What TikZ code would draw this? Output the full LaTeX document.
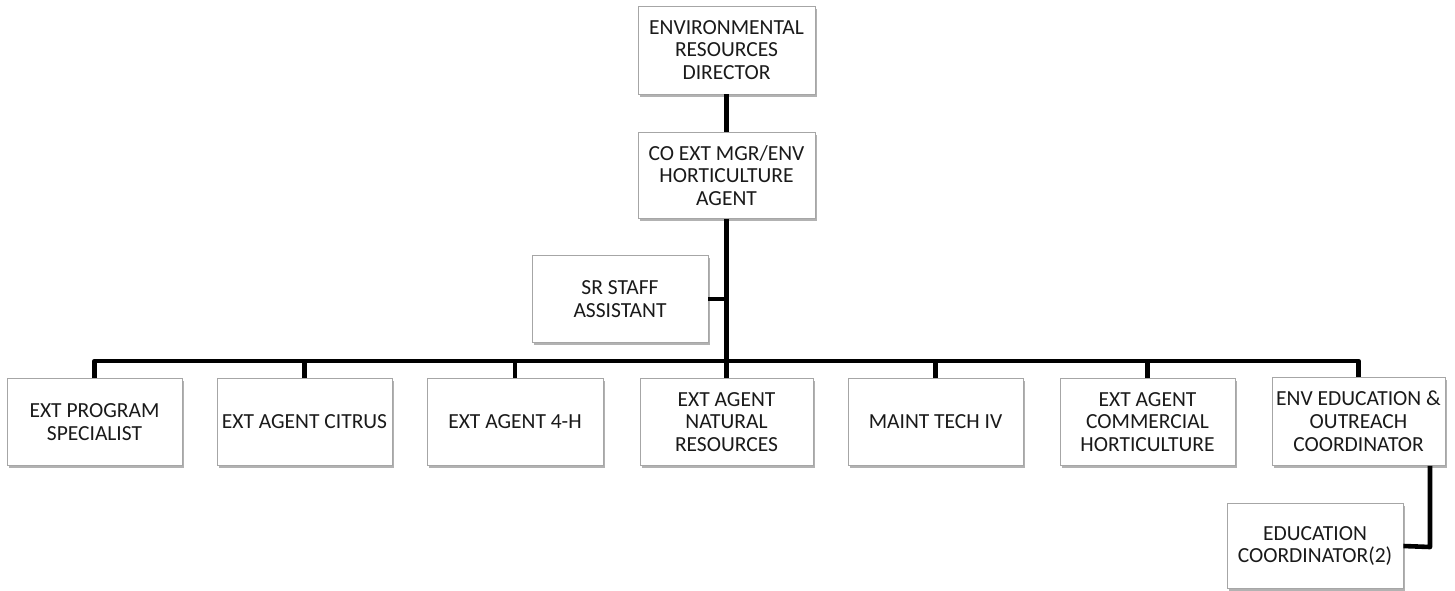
\documentclass[tikz,border=0pt]{standalone}
\usepackage{fontspec}
\setmainfont{Carlito}
\usetikzlibrary{shadows}
\definecolor{boxline}{HTML}{A6A6A6}
\definecolor{inktext}{HTML}{1A1A1A}
\tikzset{
  orgbox/.style={draw=boxline, line width=0.8pt, fill=white, rectangle,
    inner sep=2pt, align=center, text=inktext,
    font=\fontsize{21.5pt}{22.8pt}\selectfont,
    minimum width=175pt, minimum height=87pt,
    drop shadow={shadow xshift=1.5pt, shadow yshift=-2.5pt, fill=black!55, opacity=0.55}},
  link/.style={line width=4.6pt, draw=black, line join=round}
}
\begin{document}
\begin{tikzpicture}[x=1pt, y=-1pt]
\useasboundingbox (0,0) rectangle (1455,590);

% top of the chart
\node[orgbox, minimum width=177pt, minimum height=88pt] (dir) at (726.5,50) {ENVIRONMENTAL\\RESOURCES\\DIRECTOR};
\node[orgbox, minimum width=177pt, minimum height=86pt] (mgr) at (726.5,175.5) {CO EXT MGR/ENV\\HORTICULTURE\\AGENT};
\node[orgbox, minimum width=176pt] (sr) at (620,299) {SR STAFF\\ASSISTANT};

% staff row
\node[orgbox] (b1) at (94.5,422) {EXT PROGRAM\\SPECIALIST};
\node[orgbox] (b2) at (304.5,422) {EXT AGENT CITRUS};
\node[orgbox, minimum width=176pt] (b3) at (515,422) {EXT AGENT 4-H};
\node[orgbox, minimum width=173pt] (b4) at (726.5,422) {EXT AGENT\\NATURAL\\RESOURCES};
\node[orgbox] (b5) at (935.5,422) {MAINT TECH IV};
\node[orgbox] (b6) at (1147.5,422) {EXT AGENT\\COMMERCIAL\\HORTICULTURE};
\node[orgbox, minimum width=173pt, minimum height=88pt] (b7) at (1358.5,421.5) {ENV EDUCATION \&\\OUTREACH\\COORDINATOR};
\node[orgbox, minimum width=176pt, minimum height=85pt] (ec) at (1315,546) {EDUCATION\\COORDINATOR(2)};

\coordinate (bus) at (726.5,361);
\coordinate (edudrop) at (1430,547);

% connectors
\draw[link] (dir.south) -- (mgr.north);
\draw[link] (mgr.south) -- (b4.north);
\draw[link] (sr.east) -- (sr.east -| mgr.south);
\draw[link] (b1.north) -- (b1.north |- bus) -- (b7.north |- bus) -- (b7.north);
\foreach \b in {b2,b3,b5,b6}
  \draw[link] (\b.north) -- (\b.north |- bus);
\draw[link] (b7.south -| edudrop) -- (edudrop) -- (ec.east);
\end{tikzpicture}
\end{document}
